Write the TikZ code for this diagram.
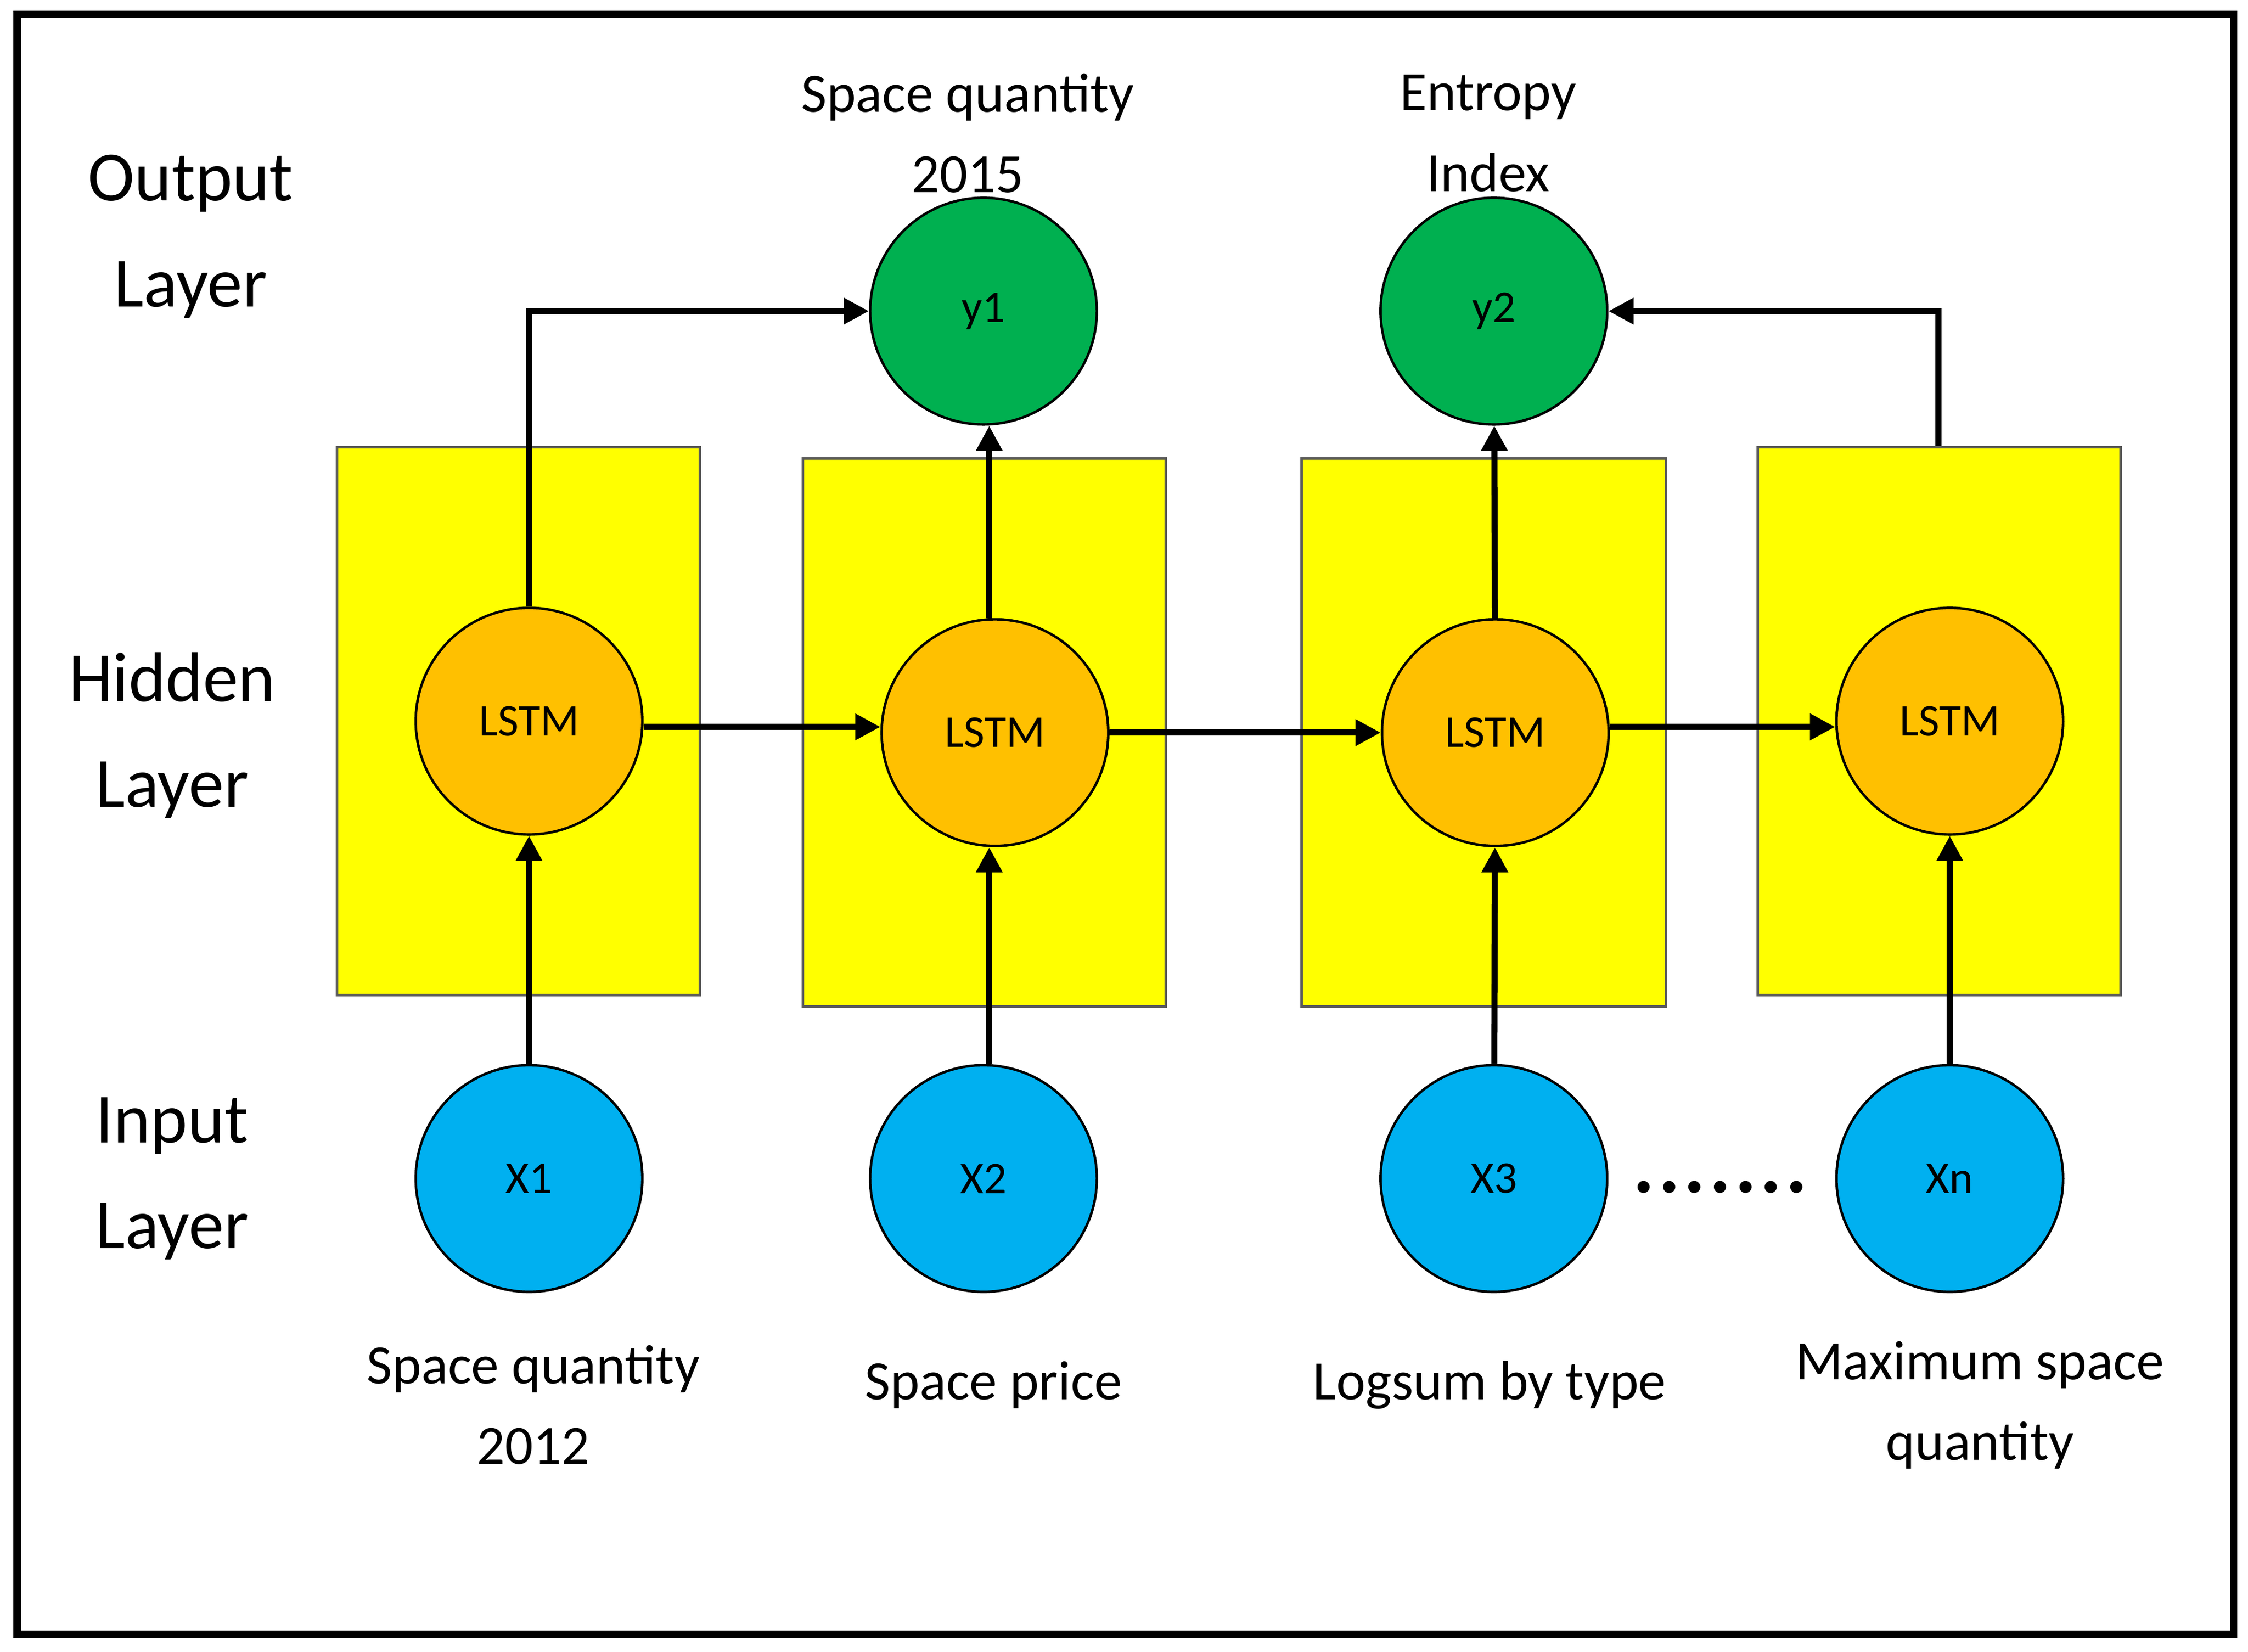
\documentclass[tikz,border=0pt]{standalone}
\usepackage{fontspec}
\setmainfont{Carlito}
\usetikzlibrary{arrows.meta}
\definecolor{cy}{HTML}{FFFF00}
\definecolor{co}{HTML}{FFC000}
\definecolor{cg}{HTML}{00B050}
\definecolor{cb}{HTML}{00B0F0}
\begin{document}
\begin{tikzpicture}[x=0.01cm,y=-0.01cm,
  box/.style={draw=gray!70!black,line width=0.5pt,fill=cy},
  circ/.style={circle,draw=black,line width=0.5pt,minimum size=1.58cm,inner sep=0pt,font=\fontsize{9}{11}\selectfont},
  lstm/.style={circ,fill=co},
  outn/.style={circ,fill=cg},
  inn/.style={circ,fill=cb},
  arr/.style={line width=1.2pt,-{Triangle[length=5pt,width=5pt]}},
  lay/.style={align=center,font=\fontsize{14}{21}\selectfont},
  lab/.style={align=center,font=\fontsize{11}{16}\selectfont}]
\useasboundingbox (0,0) rectangle (1568,1152);
\draw[line width=1.5pt] (12,10) rectangle (1558,1140);
\node[box,minimum width=2.53cm,minimum height=3.82cm] (b1) at (361.5,503) {};
\node[box,minimum width=2.53cm,minimum height=3.82cm] (b2) at (686.5,511) {};
\node[box,minimum width=2.54cm,minimum height=3.82cm] (b3) at (1035,511) {};
\node[box,minimum width=2.53cm,minimum height=3.82cm] (b4) at (1352.5,503) {};
\node[lstm] (l1) at (369,503) {LSTM};
\node[lstm] (l2) at (694,511) {LSTM};
\node[lstm] (l3) at (1043,511) {LSTM};
\node[lstm] (l4) at (1360,503) {LSTM};
\node[outn] (y1) at (686,217) {y1};
\node[outn] (y2) at (1042,217) {y2};
\node[inn] (x1) at (369,822) {X1};
\node[inn] (x2) at (686,822) {X2};
\node[inn] (x3) at (1042,822) {X3};
\node[inn] (xn) at (1360,822) {Xn};
\draw[arr] (x1) -- (l1);
\draw[arr] (x2.north -| 690,0) -- (l2.south -| 690,0);
\draw[arr] (x3) -- (l3);
\draw[arr] (xn) -- (l4);
\draw[arr] (l1.east) ++(0,4) -- (l2.west |- 0,507);
\draw[arr] (l2) -- (l3);
\draw[arr] (l3.east |- 0,507) -- (l4.west |- 0,507);
\draw[arr] (l1) -- (369,217) -- (y1);
\draw[arr] (l2.north -| 690,0) -- (y1.south -| 690,0);
\draw[arr] (l3) -- (y2);
\draw[arr] (b4.north -| 1352,0) -- (1352,217) -- (y2);
\node[font=\fontsize{20}{20}\selectfont] (dots) at (1200,828) {.......};
\node[lay] (ol) at (133,165) {Output\\Layer};
\node[lay] (hl) at (120,513) {Hidden\\Layer};
\node[lay] (il) at (120,822) {Input\\Layer};
\node[lab] (t1) at (675,93) {Space quantity\\2015};
\node[lab] (t2) at (1038,93) {Entropy\\Index};
\node[lab] (t3) at (372,980) {Space quantity\\2012};
\node[lab] (t4) at (693,966) {Space price};
\node[lab] (t5) at (1039,966) {Logsum by type};
\node[lab] (t6) at (1381,980) {Maximum space\\quantity};
\end{tikzpicture}
\end{document}
